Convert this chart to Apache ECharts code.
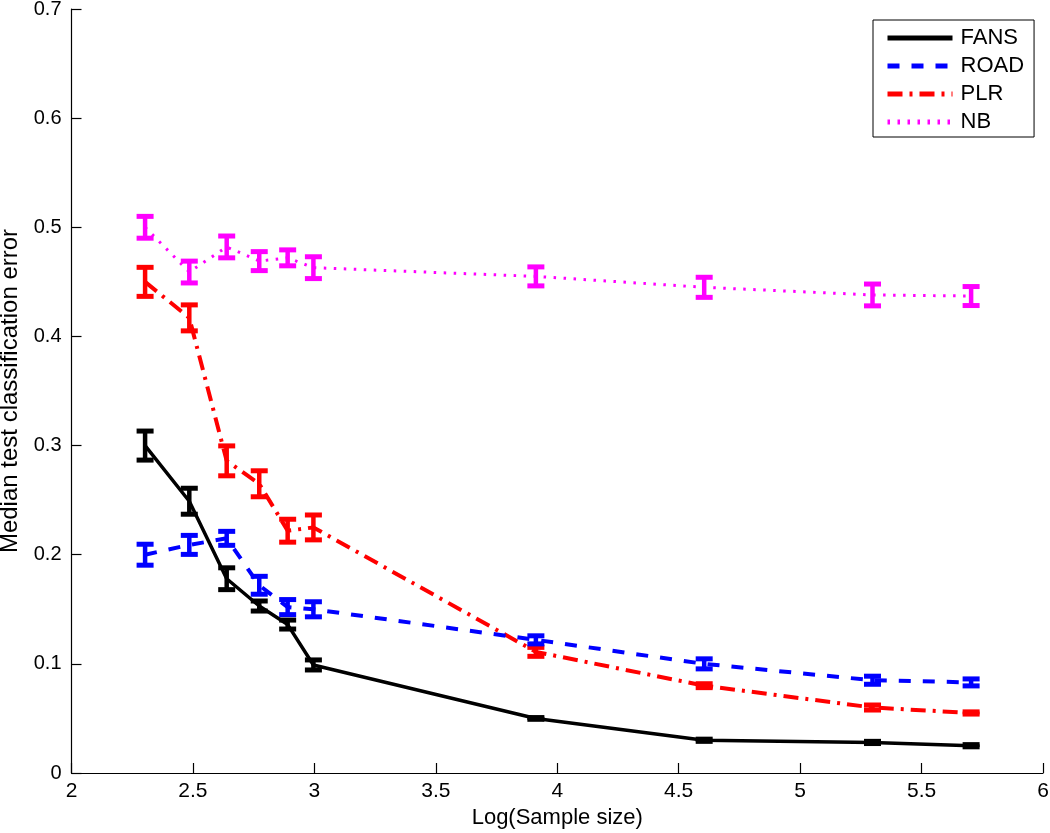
<!DOCTYPE html>
<html>
<head>
<meta charset="utf-8">
<script src="https://cdn.jsdelivr.net/npm/echarts@6/dist/echarts.min.js"></script>
<style>
html,body{margin:0;padding:0;background:#fff;}
#chart{width:1050px;height:833px;}
</style>
</head>
<body>
<div id="chart"></div>
<script>
// Log(sample size) for each evaluated sample size
const xLog = [2.303, 2.485, 2.639, 2.773, 2.890, 2.996, 3.912, 4.605, 5.298, 5.704];

const seriesNames = ['FANS', 'ROAD', 'PLR', 'NB'];

const fansVal = [0.300, 0.249, 0.178, 0.153, 0.136, 0.099, 0.050, 0.030, 0.028, 0.025];
const fansErr = [0.0133, 0.0119, 0.0100, 0.0046, 0.0041, 0.0046, 0.0008, 0.0010, 0.0010, 0.0010];

const roadVal = [0.200, 0.209, 0.215, 0.172, 0.152, 0.150, 0.122, 0.100, 0.085, 0.083];
const roadErr = [0.0096, 0.0087, 0.0064, 0.0082, 0.0069, 0.0069, 0.0037, 0.0046, 0.0037, 0.0032];

const plrVal = [0.450, 0.417, 0.286, 0.265, 0.222, 0.225, 0.111, 0.080, 0.060, 0.055];
const plrErr = [0.0133, 0.0119, 0.0137, 0.0119, 0.0105, 0.0114, 0.0041, 0.0018, 0.0023, 0.0010];

const nbVal = [0.500, 0.459, 0.482, 0.469, 0.472, 0.463, 0.455, 0.445, 0.438, 0.437];
const nbErr = [0.0100, 0.0100, 0.0100, 0.0087, 0.0073, 0.0100, 0.0087, 0.0092, 0.0100, 0.0087];

const xTicks = [2, 2.5, 3, 3.5, 4, 4.5, 5, 5.5, 6];
const yTicks = [0, 0.1, 0.2, 0.3, 0.4, 0.5, 0.6, 0.7];

const styles = {
  FANS: {color: '#000000', width: 3.5, dash: 'solid'},
  ROAD: {color: '#0000ff', width: 4, dash: [12, 12]},
  PLR:  {color: '#ff0000', width: 4, dash: [15, 7, 3, 7]},
  NB:   {color: '#ff00ff', width: 3, dash: [2.5, 7.5]}
};

const valuesBy = {FANS: fansVal, ROAD: roadVal, PLR: plrVal, NB: nbVal};
const errBy = {FANS: fansErr, ROAD: roadErr, PLR: plrErr, NB: nbErr};

const FONT = 'Liberation Sans, Arial, Helvetica, sans-serif';

function lineSeries(name) {
  const s = styles[name];
  return {
    name: name,
    type: 'line',
    data: xLog.map((x, i) => [x, valuesBy[name][i]]),
    symbol: 'none',
    symbolSize: 0,
    showSymbol: false,
    lineStyle: {color: s.color, width: s.width, type: s.dash, cap: 'butt'},
    itemStyle: {color: s.color},
    z: 2
  };
}

function errorSeries(name) {
  const s = styles[name];
  return {
    name: name + ' err',
    type: 'custom',
    data: xLog.map((x, i) => [x, valuesBy[name][i] - errBy[name][i], valuesBy[name][i] + errBy[name][i]]),
    encode: {x: 0, y: [1, 2]},
    z: 3,
    renderItem: function (params, api) {
      const x = api.value(0);
      const lo = api.coord([x, api.value(1)]);
      const hi = api.coord([x, api.value(2)]);
      const hw = 8.5;
      const lw = 5;
      const st = {stroke: s.color, lineWidth: lw};
      return {
        type: 'group',
        children: [
          {type: 'line', shape: {x1: lo[0], y1: lo[1], x2: hi[0], y2: hi[1]}, style: {stroke: s.color, lineWidth: 4.5}},
          {type: 'line', shape: {x1: lo[0] - hw, y1: lo[1], x2: lo[0] + hw, y2: lo[1]}, style: st},
          {type: 'line', shape: {x1: hi[0] - hw, y1: hi[1], x2: hi[0] + hw, y2: hi[1]}, style: st}
        ]
      };
    }
  };
}

const order = ['NB', 'PLR', 'ROAD', 'FANS'];
const series = [];
order.forEach(n => { series.push(lineSeries(n)); });
order.forEach(n => { series.push(errorSeries(n)); });

const chart = echarts.init(document.getElementById('chart'), null, {renderer: 'canvas'});
chart.setOption({
  animation: false,
  backgroundColor: '#ffffff',
  grid: {left: 71.5, right: 7, top: 9, bottom: 60, containLabel: false, outerBoundsMode: 'none'},
  legend: {
    data: seriesNames,
    orient: 'vertical',
    left: 873,
    top: 20,
    padding: [7, 10, 4, 12],
    itemWidth: 65,
    itemHeight: 14,
    itemGap: 6,
    backgroundColor: '#ffffff',
    borderColor: '#000000',
    borderWidth: 1,
    borderRadius: 0,
    itemStyle: {opacity: 0},
    lineStyle: {width: 5},
    textStyle: {fontFamily: FONT, fontSize: 22, color: '#000', padding: [0, 0, 0, 3]}
  },
  xAxis: {
    type: 'value',
    min: xTicks[0],
    max: xTicks[xTicks.length - 1],
    interval: 0.5,
    name: 'Log(Sample size)',
    nameLocation: 'middle',
    nameGap: 34,
    nameTextStyle: {fontFamily: FONT, fontSize: 22, color: '#000'},
    axisLine: {show: true, onZero: false, lineStyle: {color: '#000', width: 1.2}},
    axisTick: {show: true, inside: true, length: 10, lineStyle: {color: '#000', width: 1.2}},
    axisLabel: {fontFamily: FONT, fontSize: 21, color: '#000', margin: 8,
      formatter: v => String(v)},
    splitLine: {show: false}
  },
  yAxis: {
    type: 'value',
    min: yTicks[0],
    max: yTicks[yTicks.length - 1],
    interval: 0.1,
    name: 'Median test classification error',
    nameLocation: 'middle',
    nameGap: 46,
    nameTextStyle: {fontFamily: FONT, fontSize: 24, color: '#000'},
    axisLine: {show: true, onZero: false, lineStyle: {color: '#000', width: 1.2}},
    axisTick: {show: true, inside: true, length: 10, lineStyle: {color: '#000', width: 1.2}},
    axisLabel: {fontFamily: FONT, fontSize: 20, color: '#000', margin: 10,
      formatter: v => String(Math.round(v * 10) / 10)},
    splitLine: {show: false}
  },
  series: series
});
</script>
</body>
</html>
